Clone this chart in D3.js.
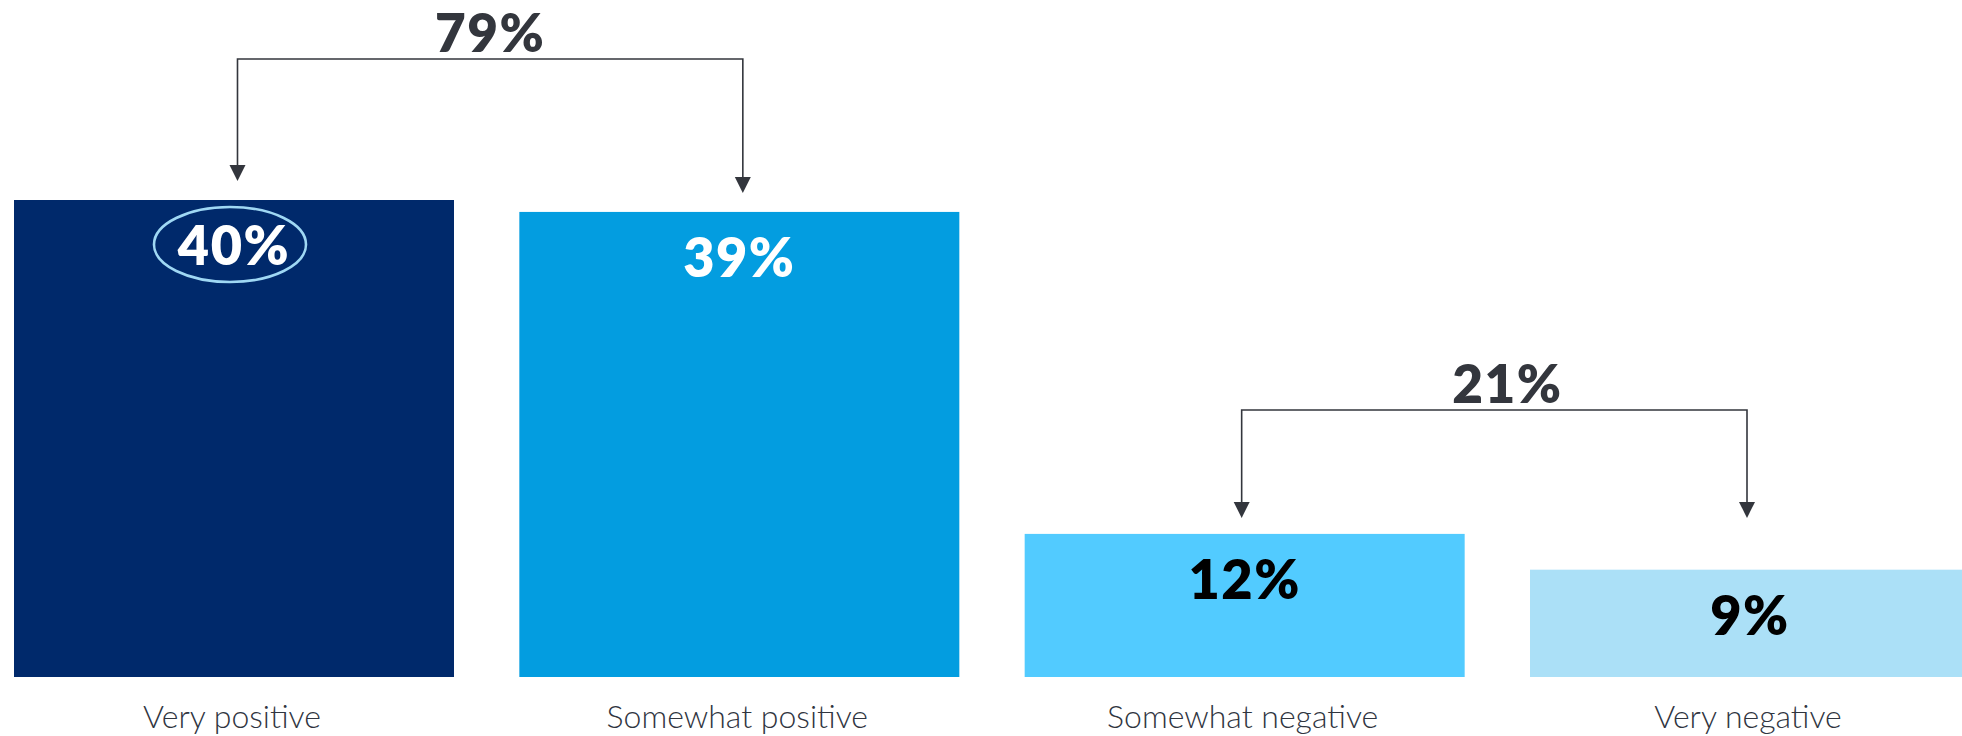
<!DOCTYPE html>
<html>
<head>
<meta charset="utf-8">
<script src="https://cdn.jsdelivr.net/npm/d3@7"></script>
<style>
  html, body { margin: 0; padding: 0; background: #ffffff; }
  svg { display: block; }
</style>
</head>
<body>
<svg id="chart" width="1962" height="736"></svg>
<script>
// Sentiment shares, in percent
const categories = ["Very positive", "Somewhat positive", "Somewhat negative", "Very negative"];
const values = [40, 39, 12, 9];
const valueLabels = ["40%", "39%", "12%", "9%"];
const barColors = ["#00296b", "#039de0", "#52cbff", "#abe0f7"];
const labelColors = ["#ffffff", "#ffffff", "#000000", "#000000"];

// Grouped totals shown over the bars
const groupLabels = ["79%", "21%"];
const groupMembers = [[0, 1], [2, 3]];

const svg = d3.select("#chart");

const x = d3.scaleBand()
  .domain(categories)
  .range([14, 1970])
  .paddingInner(0.1293)
  .paddingOuter(0);

const y = d3.scaleLinear()
  .domain([0, 40])
  .range([677, 200]);

const ink = "#33363d";
const font = "Lato, 'Open Sans', sans-serif";

// Bars
svg.append("g")
  .selectAll("rect")
  .data(categories)
  .join("rect")
  .attr("x", d => x(d))
  .attr("y", (d, i) => y(values[i]))
  .attr("width", x.bandwidth())
  .attr("height", (d, i) => y(0) - y(values[i]))
  .attr("fill", (d, i) => barColors[i]);

// Value labels inside the bars
svg.append("g")
  .selectAll("text")
  .data(categories)
  .join("text")
  .attr("x", d => x(d) + x.bandwidth() / 2)
  .attr("y", (d, i) => y(values[i]) + 65)
  .attr("text-anchor", "middle")
  .attr("font-family", font)
  .attr("font-weight", 800)
  .attr("font-size", 54)
  .attr("letter-spacing", 1.5)
  .attr("fill", (d, i) => labelColors[i])
  .text((d, i) => valueLabels[i]);

// Highlight ring around the top value
const c0 = x(categories[0]) + x.bandwidth() / 2;
svg.append("ellipse")
  .attr("cx", c0 - 4)
  .attr("cy", y(values[0]) + 44.5)
  .attr("rx", 76)
  .attr("ry", 37.5)
  .attr("fill", "none")
  .attr("stroke", "#9fd8f4")
  .attr("stroke-width", 2.6);

// Category labels below the bars
svg.append("g")
  .selectAll("text")
  .data(categories)
  .join("text")
  .attr("x", d => x(d) + x.bandwidth() / 2 - 2)
  .attr("y", 728)
  .attr("text-anchor", "middle")
  .attr("font-family", font)
  .attr("font-weight", 300)
  .attr("font-size", 32)
  .attr("fill", "#30353f")
  .text(d => d);

// Brackets joining each pair of bars, with the combined share on top
const bracketLineY = [59, 410];
const bracketShift = [3.5, -3];
const sharedTips = [false, true];
const labelShift = [0, 13];

groupMembers.forEach((members, g) => {
  const xs = members.map(i => x(categories[i]) + x.bandwidth() / 2 + bracketShift[g]);
  const topMost = d3.min(members, i => y(values[i]));
  const tips = members.map(i => sharedTips[g] ? topMost - 16 : y(values[i]) - 19);
  const ly = bracketLineY[g];
  const grp = svg.append("g");

  grp.append("path")
    .attr("d", `M${xs[0]},${tips[0] - 15}V${ly}H${xs[1]}V${tips[1] - 15}`)
    .attr("fill", "none")
    .attr("stroke", ink)
    .attr("stroke-width", 1.6);

  members.forEach((m, k) => {
    grp.append("path")
      .attr("d", `M${xs[k] - 8},${tips[k] - 16}L${xs[k] + 8},${tips[k] - 16}L${xs[k]},${tips[k]}Z`)
      .attr("fill", ink);
  });

  grp.append("text")
    .attr("x", (xs[0] + xs[1]) / 2 + labelShift[g])
    .attr("y", ly - 7)
    .attr("text-anchor", "middle")
    .attr("font-family", font)
    .attr("font-weight", 800)
    .attr("font-size", 53)
    .attr("letter-spacing", 1.5)
    .attr("fill", ink)
    .text(groupLabels[g]);
});
</script>
</body>
</html>
